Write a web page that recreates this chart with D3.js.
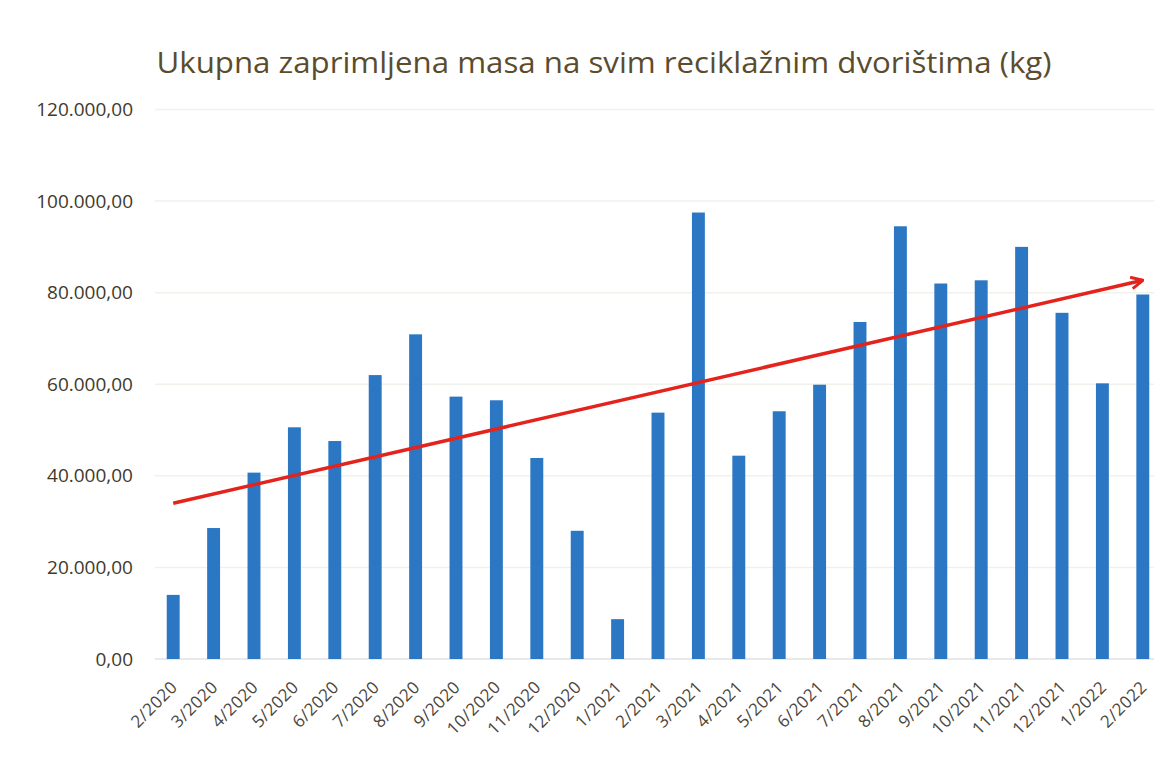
<!DOCTYPE html>
<meta charset="utf-8">
<style>
  body { margin: 0; background: #fff; }
  svg { display: block; }
</style>
<body>
  <svg width="1154" height="763"></svg>
  <script src="https://cdn.jsdelivr.net/npm/d3@7"></script>
  <script>
    // monthly totals (kg)
    const months = ["2/2020", "3/2020", "4/2020", "5/2020", "6/2020", "7/2020", "8/2020", "9/2020",
      "10/2020", "11/2020", "12/2020", "1/2021", "2/2021", "3/2021", "4/2021", "5/2021", "6/2021",
      "7/2021", "8/2021", "9/2021", "10/2021", "11/2021", "12/2021", "1/2022", "2/2022"];
    const masses = [14000, 28600, 40700, 50600, 47600, 62000, 70900, 57300, 56500, 43900, 28000, 8700,
      53800, 97500, 44400, 54100, 59900, 73600, 94500, 82000, 82700, 90000, 75600, 60200, 79600];
    const yTicks = [0, 20000, 40000, 60000, 80000, 100000, 120000];
    // trend arrow: value at first and last month
    const trend = [34000, 82700];

    const svg = d3.select("svg");

    const x = d3.scaleBand()
      .domain(months)
      .range([153, 1163])
      .paddingInner(0.68)
      .paddingOuter(0.34);

    const y = d3.scaleLinear()
      .domain([0, 120000])
      .range([659, 109.5]);

    const fmt = v => d3.format(",.2f")(v).replace(/,/g, "X").replace(".", ",").replace(/X/g, ".");

    // title
    svg.append("text")
      .attr("x", 604)
      .attr("y", 73)
      .attr("text-anchor", "middle")
      .attr("font-family", "Open Sans, sans-serif")
      .attr("font-size", 29)
      .attr("fill", "#5b4c2e")
      .attr("textLength", 895)
      .attr("lengthAdjust", "spacingAndGlyphs")
      .text("Ukupna zaprimljena masa na svim reciklažnim dvorištima (kg)");

    // grid
    svg.append("g")
      .selectAll("line")
      .data(yTicks)
      .join("line")
      .attr("x1", 155)
      .attr("x2", 1154)
      .attr("y1", d => y(d))
      .attr("y2", d => y(d))
      .attr("stroke", d => d === 0 ? "#e2e2e2" : "#f1f1ec")
      .attr("stroke-width", 1.5);

    // y labels
    svg.append("g")
      .selectAll("text")
      .data(yTicks)
      .join("text")
      .attr("x", 133)
      .attr("y", d => y(d))
      .attr("dy", "0.35em")
      .attr("text-anchor", "end")
      .attr("font-family", "Open Sans, sans-serif")
      .attr("font-size", 19)
      .attr("fill", "#3f3a2c")
      .text(d => fmt(d));

    // bars
    svg.append("g")
      .selectAll("rect")
      .data(months)
      .join("rect")
      .attr("x", d => x(d))
      .attr("width", x.bandwidth())
      .attr("y", (d, i) => y(masses[i]))
      .attr("height", (d, i) => y(0) - y(masses[i]))
      .attr("fill", "#2b77c4");

    // x labels
    svg.append("g")
      .selectAll("text")
      .data(months)
      .join("text")
      .attr("transform", d => `translate(${x(d) + x.bandwidth() / 2 + 1},${684}) rotate(-45)`)
      .attr("text-anchor", "end")
      .attr("dy", "0.35em")
      .attr("font-family", "Open Sans, sans-serif")
      .attr("font-size", 17)
      .attr("letter-spacing", 0.4)
      .attr("fill", "#4a463c")
      .text(d => d);

    // trend arrow
    svg.append("defs").append("marker")
      .attr("id", "head")
      .attr("viewBox", "0 0 12 12")
      .attr("refX", 11)
      .attr("refY", 6)
      .attr("markerWidth", 14)
      .attr("markerHeight", 14)
      .attr("markerUnits", "userSpaceOnUse")
      .attr("orient", "auto")
      .append("path")
      .attr("d", "M1,1 L11,6 L1,11")
      .attr("fill", "none")
      .attr("stroke", "#e3231c")
      .attr("stroke-width", 2.5);

    const ends = [months[0], months[months.length - 1]];
    svg.append("line")
      .attr("x1", x(ends[0]) + x.bandwidth() / 2)
      .attr("y1", y(trend[0]))
      .attr("x2", x(ends[1]) + x.bandwidth() / 2)
      .attr("y2", y(trend[1]))
      .attr("stroke", "#e3231c")
      .attr("stroke-width", 3.5)
      .attr("marker-end", "url(#head)");
  </script>
</body>
